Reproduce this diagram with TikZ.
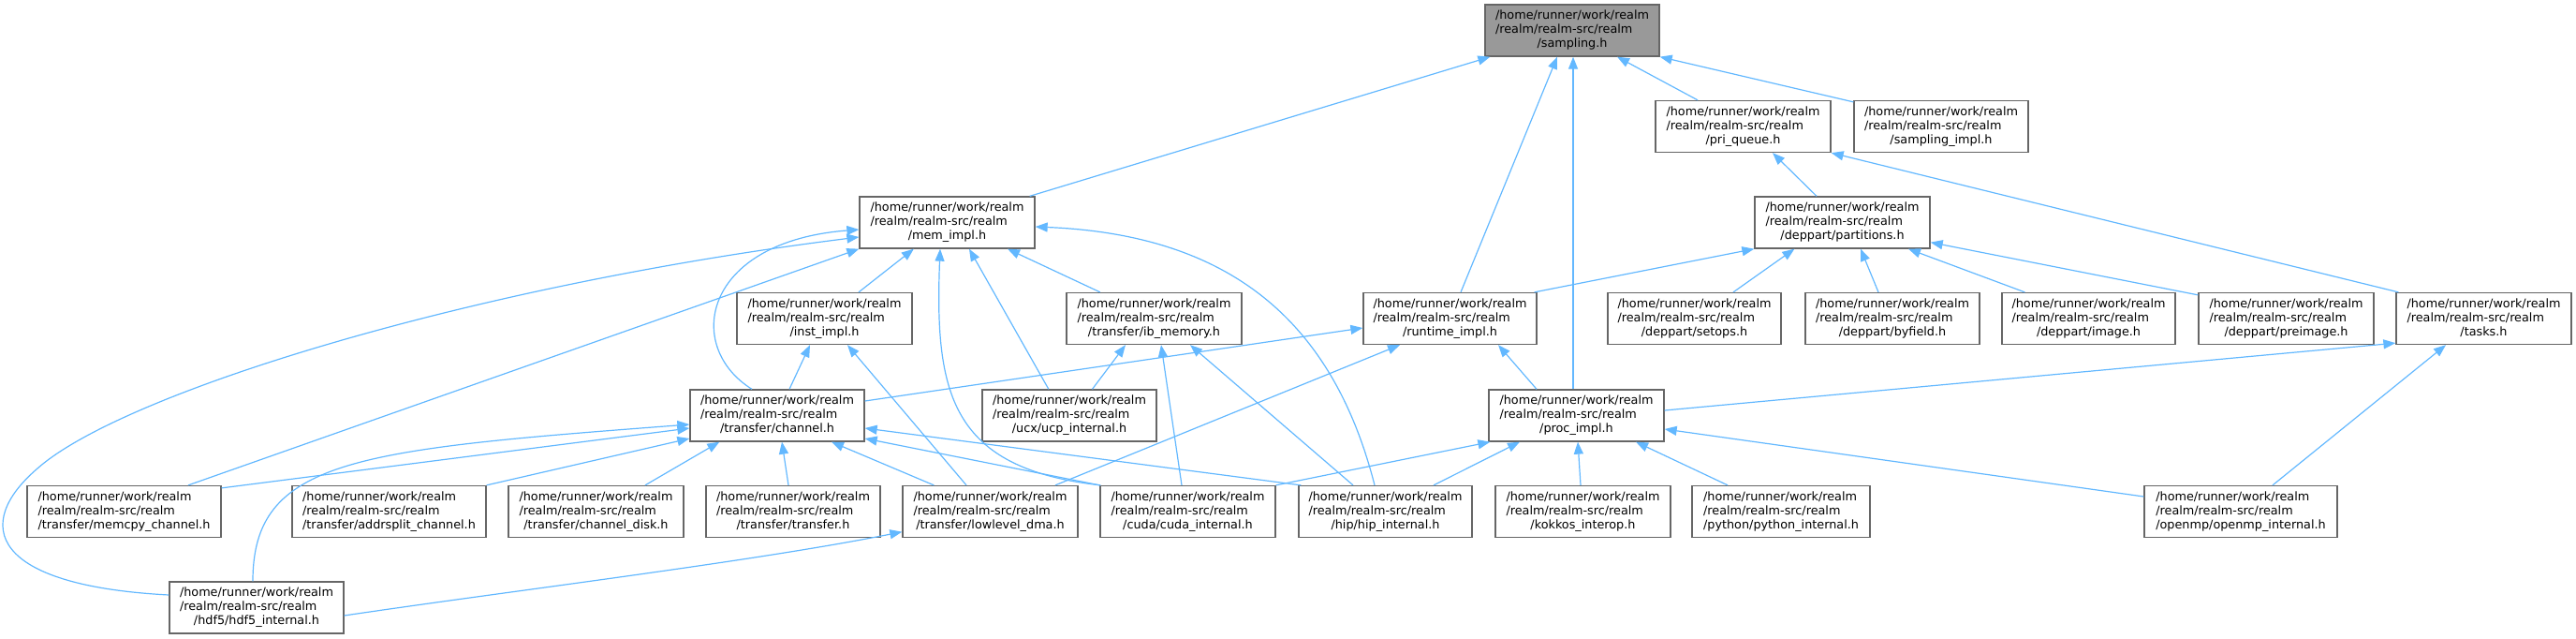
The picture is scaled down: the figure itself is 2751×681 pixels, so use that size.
\documentclass[tikz,border=0pt]{standalone}
\usepackage{fontspec}
\setmainfont{DejaVu Sans}
\usetikzlibrary{arrows.meta}
\definecolor{edgec}{HTML}{63B8FF}
\definecolor{boxc}{HTML}{666666}
\definecolor{rootc}{HTML}{999999}
\newcommand{\lbl}[1]{\begin{tabular}{@{}l@{}}/home/runner/work/realm\\/realm/realm-src/realm\\\multicolumn{1}{@{}c@{}}{#1}\end{tabular}}
\begin{document}
\begin{tikzpicture}[x=1pt,y=-1pt,
  box/.style={draw=boxc, line width=1.3pt, fill=white, inner sep=0pt,
    minimum width=187pt, minimum height=55pt, font=\fontsize{12.8}{15}\selectfont},
  rootbox/.style={box, fill=rootc},
  e/.style={draw=edgec, line width=1.2pt, {Triangle[length=13pt,width=10pt]}-}]
\useasboundingbox (0,0) rectangle (2751,681);
% row 0
\node[rootbox, minimum width=186pt] (sampling) at (1679,32.5) {\lbl{/sampling.h}};
% row 1
\node[box] (pri) at (1861.5,135) {\lbl{/pri\_queue.h}};
\node[box, minimum width=186pt] (simpl) at (2073,135) {\lbl{/sampling\_impl.h}};
% row 2
\node[box] (mem) at (1011.5,237.5) {\lbl{/mem\_impl.h}};
\node[box] (part) at (1967.5,237.5) {\lbl{/deppart/partitions.h}};
% row 3
\node[box] (inst) at (880.5,340) {\lbl{/inst\_impl.h}};
\node[box] (ib) at (1232.5,340) {\lbl{/transfer/ib\_memory.h}};
\node[box, minimum width=185pt] (runtime) at (1548.5,340) {\lbl{/runtime\_impl.h}};
\node[box, minimum width=185pt] (setops) at (1809.5,340) {\lbl{/deppart/setops.h}};
\node[box, minimum width=186pt] (byfield) at (2021,340) {\lbl{/deppart/byfield.h}};
\node[box, minimum width=185pt] (image) at (2230.5,340) {\lbl{/deppart/image.h}};
\node[box] (preimage) at (2441.5,340) {\lbl{/deppart/preimage.h}};
\node[box] (tasks) at (2652.5,340) {\lbl{/tasks.h}};
% row 4
\node[box, minimum width=186pt] (channel) at (830,443.5) {\lbl{/transfer/channel.h}};
\node[box, minimum width=186pt] (ucp) at (1142,443.5) {\lbl{/ucx/ucp\_internal.h}};
\node[box] (proc) at (1683.5,443.5) {\lbl{/proc\_impl.h}};
% row 5
\node[box, minimum width=207pt] (memcpy) at (132.5,546) {\lbl{/transfer/memcpy\_channel.h}};
\node[box, minimum width=207pt] (addr) at (415.5,546) {\lbl{/transfer/addrsplit\_channel.h}};
\node[box] (disk) at (636.5,546) {\lbl{/transfer/channel\_disk.h}};
\node[box, minimum width=186pt] (transfer) at (847,546) {\lbl{/transfer/transfer.h}};
\node[box] (lowlevel) at (1057.5,546) {\lbl{/transfer/lowlevel\_dma.h}};
\node[box] (cuda) at (1268.5,546) {\lbl{/cuda/cuda\_internal.h}};
\node[box, minimum width=185pt] (hip) at (1479.5,546) {\lbl{/hip/hip\_internal.h}};
\node[box] (kokkos) at (1690.5,546) {\lbl{/kokkos\_interop.h}};
\node[box, minimum width=190pt] (python) at (1902,546) {\lbl{/python/python\_internal.h}};
\node[box, minimum width=206pt] (openmp) at (2393,546) {\lbl{/openmp/openmp\_internal.h}};
% row 6
\node[box, minimum width=186pt] (hdf5) at (274,648.5) {\lbl{/hdf5/hdf5\_internal.h}};

% edges into sampling
\draw[e] ([xshift=6pt]sampling.south west) -- ([xshift=-6pt]mem.north east);
\draw[e] ([xshift=-16pt]sampling.south) -- ([xshift=11.5pt]runtime.north);
\draw[e] ([xshift=1pt]sampling.south) -- ([xshift=-3.5pt]proc.north);
\draw[e] ([xshift=48pt]sampling.south) -- ([xshift=-48.5pt]pri.north);
\draw[e] (sampling.south east) -- ([yshift=-2pt]simpl.north west);
% into pri_queue
\draw[e] ([xshift=31.5pt]pri.south) -- ([xshift=-27.5pt]part.north);
\draw[e] (pri.south east) -- ([xshift=3pt]tasks.north west);
% into partitions
\draw[e] (part.south west) -- ([xshift=-3pt]runtime.north east);
\draw[e] ([xshift=43pt]part.south west) -- ([xshift=41.5pt]setops.north);
\draw[e] ([xshift=19.5pt]part.south) -- ([xshift=-15pt]byfield.north);
\draw[e] ([xshift=70.5pt]part.south) -- ([xshift=25pt]image.north west);
\draw[e] ([yshift=7pt]part.south east) -- ([yshift=-3pt]preimage.north west);
% into mem_impl
\draw[e] ([xshift=58.5pt]mem.south west) -- ([xshift=36.5pt]inst.north);
\draw[e] ([xshift=64.5pt]mem.south) -- ([xshift=36.5pt]ib.north west);
\draw[e] ([xshift=23.5pt]mem.south) -- ([xshift=71.5pt]ucp.north west);
\draw[e] ([xshift=-7.5pt]mem.south) .. controls (998,420) and (1015,500) .. ([xshift=1pt]cuda.north west);
\draw[e] ([yshift=-4.5pt]mem.east) .. controls (1300,250) and (1420,330) .. ([xshift=-11.5pt]hip.north);
\draw[e] ([yshift=-7.5pt]mem.west) .. controls (750,258) and (730,370) .. ([xshift=-27pt]channel.north);
\draw[e] (mem.south west) -- ([xshift=68.5pt]memcpy.north);
\draw[e] ([yshift=-15.5pt]mem.west) .. controls (500,305) and (130,420) .. (40,500)
  .. controls (-30,560) and (-10,625) .. ([yshift=13.5pt]hdf5.west);
% into inst_impl
\draw[e] ([xshift=-15.5pt]inst.south) -- ([xshift=13pt]channel.north);
\draw[e] ([xshift=24.5pt]inst.south) -- ([xshift=-25.5pt]lowlevel.north);
% into ib_memory
\draw[e] ([xshift=-30.5pt]ib.south) -- ([xshift=24.5pt]ucp.north);
\draw[e] ([xshift=7.5pt]ib.south) -- ([xshift=-6.5pt]cuda.north);
\draw[e] ([xshift=38.5pt]ib.south) -- ([xshift=-34.5pt]hip.north);
% into runtime_impl
\draw[e] ([yshift=-10pt]runtime.west) -- ([yshift=15.5pt]channel.east);
\draw[e] ([xshift=-53.5pt]runtime.south) -- ([xshift=69.5pt]lowlevel.north);
\draw[e] ([xshift=51.5pt]runtime.south) -- ([xshift=-42.5pt]proc.north);
% into tasks
\draw[e] ([yshift=2pt]tasks.south west) -- ([yshift=5.5pt]proc.east);
\draw[e] ([xshift=-40.5pt]tasks.south) -- ([xshift=34pt]openmp.north);
% into proc_impl
\draw[e] ([xshift=2pt]proc.south west) -- (cuda.north east);
\draw[e] ([xshift=-60.5pt]proc.south) -- ([xshift=51.5pt]hip.north);
\draw[e] ([xshift=1.5pt]proc.south) -- ([xshift=-2.5pt]kokkos.north);
\draw[e] ([xshift=63.5pt]proc.south) -- ([xshift=-57pt]python.north);
\draw[e] ([yshift=-14.5pt]proc.east) -- ([yshift=16pt]openmp.west);
% into channel
\draw[e] ([yshift=-13.5pt]channel.west) -- ([yshift=-3pt]memcpy.north east);
\draw[e] ([yshift=-9.5pt]channel.west) .. controls (380,480) and (270,490) .. ([xshift=-4pt]hdf5.north);
\draw[e] ([yshift=-24.5pt]channel.west) -- (addr.north east);
\draw[e] ([xshift=32pt]channel.south west) -- ([xshift=52.5pt]disk.north);
\draw[e] ([xshift=5pt]channel.south) -- ([xshift=-5pt]transfer.north);
\draw[e] ([xshift=58pt]channel.south) -- ([xshift=34pt]lowlevel.north west);
\draw[e] ([yshift=-24.5pt]channel.east) -- (cuda.north west);
\draw[e] ([yshift=-13.5pt]channel.east) -- ([xshift=3pt]hip.north west);
% into lowlevel_dma
\draw[e] ([yshift=6.5pt]lowlevel.south west) .. controls (800,600) and (550,630) .. ([yshift=-8.5pt]hdf5.east);
\end{tikzpicture}
\end{document}
